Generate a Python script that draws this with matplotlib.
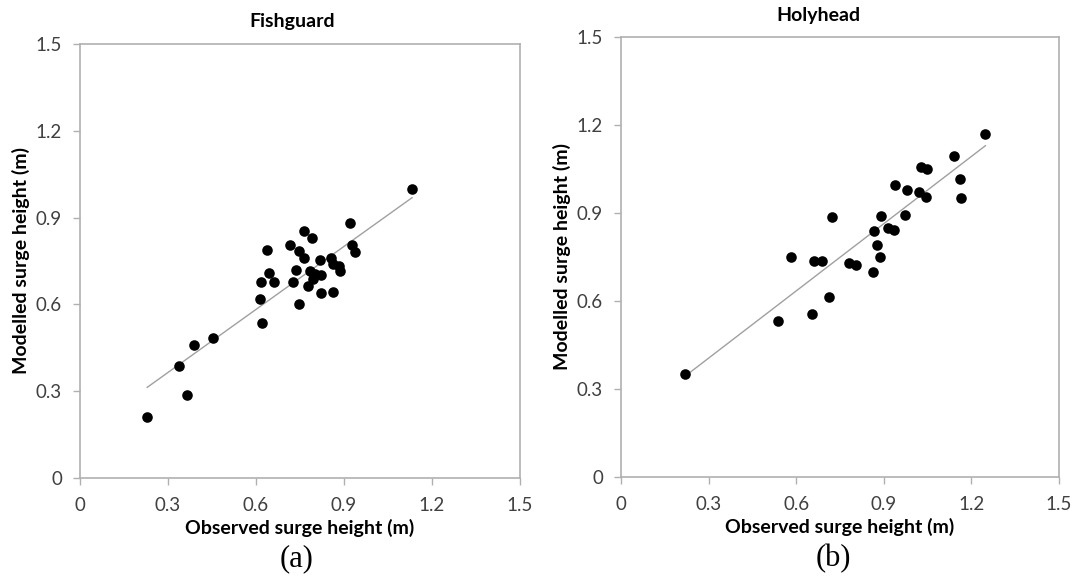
import numpy as np
import matplotlib
matplotlib.use("Agg")
import matplotlib.pyplot as plt

# Fishguard: observed vs modelled surge height (m)
fish_obs = [0.229, 0.339, 0.365, 0.389, 0.452, 0.622, 0.615, 0.618, 0.636,
            0.643, 0.662, 0.725, 0.715, 0.738, 0.746, 0.763, 0.763, 0.790,
            0.745, 0.778, 0.785, 0.793, 0.802, 0.823, 0.819, 0.820, 0.862,
            0.855, 0.864, 0.883, 0.885, 0.922, 0.926, 0.937, 1.132]
fish_mod = [0.212, 0.387, 0.288, 0.461, 0.483, 0.534, 0.618, 0.676, 0.788,
            0.709, 0.677, 0.677, 0.804, 0.718, 0.785, 0.762, 0.854, 0.830,
            0.601, 0.663, 0.715, 0.687, 0.706, 0.701, 0.752, 0.641, 0.644,
            0.760, 0.740, 0.732, 0.715, 0.883, 0.805, 0.782, 0.999]

# Holyhead
holy_obs = [0.220, 0.537, 0.582, 0.654, 0.661, 0.689, 0.712, 0.723, 0.780,
            0.805, 0.862, 0.865, 0.876, 0.886, 0.892, 0.914, 0.936, 0.939,
            0.973, 0.981, 1.022, 1.026, 1.049, 1.043, 1.140, 1.161, 1.166,
            1.248]
holy_mod = [0.350, 0.531, 0.749, 0.557, 0.737, 0.737, 0.615, 0.886, 0.729,
            0.723, 0.700, 0.837, 0.790, 0.751, 0.890, 0.850, 0.842, 0.997,
            0.894, 0.978, 0.971, 1.057, 1.051, 0.956, 1.096, 1.015, 0.952,
            1.171]

# linear trendlines (slope, intercept) as drawn in the figure
fish_fit = (0.726, 0.147)
holy_fit = (0.764, 0.176)

ticks = [0, 0.3, 0.6, 0.9, 1.2, 1.5]
tick_labels = ["0", "0.3", "0.6", "0.9", "1.2", "1.5"]

plt.rcParams["font.family"] = ["Lato", "DejaVu Sans"]

W, H = 1076, 579
fig = plt.figure(figsize=(W / 100, H / 100), dpi=100)
# axes boxes in pixels: left, top, right, bottom
ax1 = fig.add_axes([80 / W, 1 - 478 / H, 440 / W, 434 / H])
ax2 = fig.add_axes([621 / W, 1 - 477 / H, 438 / W, 440 / H])

grey = "#b0b0b0"


def style(ax, obs, mod, fit):
    ax.scatter(obs, mod, s=58, color="black", zorder=3, linewidths=0)
    xs = np.array([min(obs), max(obs)])
    ax.plot(xs, fit[0] * xs + fit[1], color="#a0a0a0", lw=1.0, zorder=2)
    ax.set_xlim(0, 1.5)
    ax.set_ylim(0, 1.5)
    ax.set_xticks(ticks)
    ax.set_xticklabels(tick_labels)
    ax.set_yticks(ticks)
    ax.set_yticklabels(tick_labels)
    for s in ax.spines.values():
        s.set_color(grey)
        s.set_linewidth(1.2)
    ax.tick_params(direction="out", length=5, width=1, color=grey,
                   labelsize=13.5, labelcolor="#404040")
    ax.tick_params(axis="x", pad=9)
    ax.tick_params(axis="y", pad=8)
    ax.set_xlabel("Observed surge height (m)", fontsize=14, fontweight="bold",
                  labelpad=3)
    ax.set_ylabel("Modelled surge height (m)", fontsize=14, fontweight="bold",
                  labelpad=4)


style(ax1, fish_obs, fish_mod, fish_fit)
style(ax2, holy_obs, holy_mod, holy_fit)

fig.text(292 / W, 1 - 21 / H, "Fishguard", ha="center", va="center",
         fontsize=14, fontweight="bold")
fig.text(818 / W, 1 - 15 / H, "Holyhead", ha="center", va="center",
         fontsize=14, fontweight="bold")

fig.text(297 / W, 1 - 559 / H, "(a)", ha="center", va="center",
         fontsize=22, family="Liberation Serif")
fig.text(833 / W, 1 - 559 / H, "(b)", ha="center", va="center",
         fontsize=22, family="Liberation Serif")

fig.savefig("out.png", dpi=100, facecolor="white")
